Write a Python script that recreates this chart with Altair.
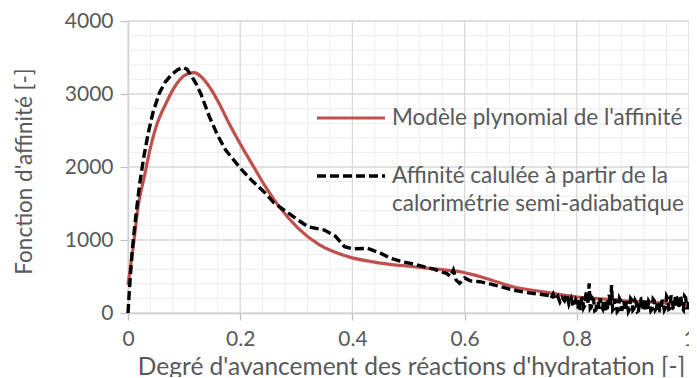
import altair as alt
import pandas as pd

# ---- data ----
red_x = [0, 0.01, 0.018, 0.03, 0.039, 0.05, 0.068, 0.085, 0.1, 0.11, 0.118, 0.13, 0.145,
         0.162, 0.18, 0.203, 0.225, 0.245, 0.27, 0.303, 0.34, 0.392, 0.45, 0.509, 0.55,
         0.591, 0.64, 0.686, 0.74, 0.797, 0.85, 0.9, 0.962, 1.0]
red_y = [383, 950, 1456, 1900, 2233, 2550, 2877, 3120, 3250, 3285, 3292, 3240, 3100,
         2877, 2600, 2278, 1990, 1730, 1450, 1164, 940, 772, 684, 634, 600,
         566, 470, 360, 290, 223, 190, 160, 133, 110]

blk_x = [0, 0.002, 0.004, 0.007, 0.01, 0.015, 0.021, 0.028, 0.036, 0.045, 0.056, 0.066,
         0.077, 0.088, 0.0975, 0.105, 0.113, 0.121, 0.13, 0.145, 0.16, 0.174, 0.19, 0.203,
         0.22, 0.245, 0.26, 0.28, 0.3, 0.321, 0.35, 0.37, 0.386, 0.4, 0.427, 0.45, 0.468,
         0.49, 0.51, 0.527, 0.545, 0.56, 0.568, 0.575, 0.58, 0.585, 0.591, 0.6, 0.61,
         0.627, 0.645, 0.665, 0.686, 0.71, 0.73, 0.744,
         0.750, 0.754, 0.758, 0.762, 0.766, 0.770, 0.774, 0.778, 0.782, 0.786, 0.790,
         0.794, 0.798,
         0.800, 0.802, 0.804, 0.806, 0.808, 0.810, 0.812, 0.814, 0.816, 0.818,
         0.820, 0.822, 0.824, 0.826, 0.828, 0.830, 0.832, 0.834, 0.836, 0.838,
         0.840, 0.842, 0.844, 0.846, 0.848, 0.850, 0.852, 0.854, 0.856, 0.858,
         0.860, 0.862, 0.864, 0.866, 0.868, 0.870, 0.872, 0.874, 0.876, 0.878,
         0.880, 0.882, 0.884, 0.886, 0.888, 0.890, 0.892, 0.894, 0.896, 0.898,
         0.900, 0.902, 0.904, 0.906, 0.908, 0.910, 0.912, 0.914, 0.916, 0.918,
         0.920, 0.922, 0.924, 0.926, 0.928, 0.930, 0.932, 0.934, 0.936, 0.938,
         0.940, 0.942, 0.944, 0.946, 0.948, 0.950, 0.952, 0.954, 0.956, 0.958,
         0.960, 0.962, 0.964, 0.966, 0.968, 0.970, 0.972, 0.974, 0.976, 0.978,
         0.980, 0.982, 0.984, 0.986, 0.988, 0.990, 0.992, 0.994, 0.996, 0.998, 1.000]
blk_y = [0, 250, 480, 800, 1045, 1400, 1780, 2130, 2466, 2760, 3014, 3160,
         3260, 3330, 3365, 3340, 3250, 3146, 3000, 2689, 2430, 2233, 2080, 1959,
         1820, 1640, 1510, 1400, 1290, 1182, 1137, 1050, 908, 880, 886, 820, 749,
         700, 670, 634, 600, 560, 543, 500, 589, 450, 406, 480, 440,
         429, 400, 360, 315, 280, 260, 247,
         240, 200, 260, 180, 230, 150, 210, 170, 260, 120, 200,
         90, 180,
         140, 60, 190, 40, 170, 220, 70, 100, 250, 300,
         120, 406, 60, 80, 200, 180, 30, 40, 160, 150,
         60, 200, 90, 60, 180, 130, 20, 30, 170, 250,
         100, 384, 40, 60, 190, 150, 20, 40, 200, 170,
         30, 90, 160, 30, 120, 160, 20, 50, 200, 180,
         40, 60, 170, 140, 20, 30, 180, 190, 40, 70,
         200, 150, 30, 40, 160, 130, 30, 50, 190, 170,
         40, 60, 160, 120, 30, 30, 180, 140, 40, 70,
         230, 200, 50, 60, 240, 180, 60, 50, 250, 220,
         70, 80, 240, 190, 60, 40, 230, 210, 70, 70, 150]

x_major = [0, 0.2, 0.4, 0.6, 0.8, 1.0]
x_minor = [0.04, 0.08, 0.12, 0.16, 0.24, 0.28, 0.32, 0.36, 0.44, 0.48, 0.52, 0.56,
           0.64, 0.68, 0.72, 0.76, 0.84, 0.88, 0.92, 0.96]
y_major = [0, 1000, 2000, 3000, 4000]
y_minor = [200, 400, 600, 800, 1200, 1400, 1600, 1800, 2200, 2400, 2600, 2800,
           3200, 3400, 3600, 3800]

legend_red = "Modèle plynomial de l'affinité"
legend_blk = ["Affinité calulée à partir de la", "calorimétrie semi-adiabatique"]

x_title = "Degré d'avancement des réactions d'hydratation [-]"
y_title = "Fonction d'affinité [-]"

FONT = "Lato"
TXT = "#595959"
RED = "#c0504d"
W, H = 561, 292

xs = alt.Scale(domain=[0, 1], nice=False, zero=False)
ys = alt.Scale(domain=[0, 4000], nice=False)

one = pd.DataFrame({"k": [0]})

xaxis = alt.Axis(values=x_major, format="~g", title=x_title, grid=False,
                 domainColor="#bfbfbf", domainWidth=1.5, tickColor="#bfbfbf", tickSize=7,
                 tickWidth=1.3, labelFont=FONT, labelFontSize=21, labelColor=TXT,
                 labelPadding=8, labelFlush=False, labelOverlap=False,
                 titleFont=FONT, titleFontSize=24.5, titleFontWeight="normal",
                 titleColor=TXT, titleBaseline="alphabetic", titleY=61, titleX=283)
yaxis = alt.Axis(values=y_major, format="d", title=y_title, grid=False,
                 domainColor="#bfbfbf", domainWidth=1.3, tickColor="#bfbfbf", tickSize=8,
                 tickWidth=1.3, labelFont=FONT, labelFontSize=21, labelColor=TXT,
                 labelPadding=7, labelFlush=False, labelOverlap=False,
                 titleFont=FONT, titleFontSize=22.5, titleFontWeight="normal",
                 titleColor=TXT, titleBaseline="middle", titleX=-104, titleY=150)

vminor = alt.Chart(pd.DataFrame({"v": x_minor})).mark_rule(color="#ededed", strokeWidth=1).encode(
    x=alt.X("v:Q", scale=xs, axis=xaxis))
hminor = alt.Chart(pd.DataFrame({"v": y_minor})).mark_rule(color="#ededed", strokeWidth=1).encode(
    y=alt.Y("v:Q", scale=ys, axis=yaxis))
vmajor = alt.Chart(pd.DataFrame({"v": x_major})).mark_rule(color="#d9d9d9", strokeWidth=1.3).encode(
    x=alt.X("v:Q", scale=xs, axis=xaxis))
hmajor = alt.Chart(pd.DataFrame({"v": y_major})).mark_rule(color="#d9d9d9", strokeWidth=1.3).encode(
    y=alt.Y("v:Q", scale=ys, axis=yaxis))

red = alt.Chart(pd.DataFrame({"x": red_x, "y": red_y})).mark_line(
    color=RED, strokeWidth=3.2, interpolate="monotone").encode(
    x=alt.X("x:Q", scale=xs, axis=xaxis),
    y=alt.Y("y:Q", scale=ys, axis=yaxis),
    order="x:Q")
blk = alt.Chart(pd.DataFrame({"x": blk_x, "y": blk_y})).mark_line(
    color="black", strokeWidth=3.4, strokeDash=[9, 4]).encode(
    x=alt.X("x:Q", scale=xs, axis=xaxis),
    y=alt.Y("y:Q", scale=ys, axis=yaxis),
    order="x:Q")

leg_r = alt.Chart(one).mark_rule(color=RED, strokeWidth=3.2).encode(
    x=alt.value(189), x2=alt.value(257), y=alt.value(97))
leg_b = alt.Chart(one).mark_rule(color="black", strokeWidth=3.4, strokeDash=[9, 4]).encode(
    x=alt.value(189), x2=alt.value(257), y=alt.value(155))

def label(t, yy):
    return alt.Chart(pd.DataFrame({"t": [t]})).mark_text(
        font=FONT, fontSize=22.5, color=TXT, align="left", baseline="middle").encode(
        text="t:N", x=alt.value(264), y=alt.value(yy))

chart = alt.layer(
    vminor, hminor, vmajor, hmajor, red, blk, leg_r, leg_b,
    label(legend_red, 97), label(legend_blk[0], 155), label(legend_blk[1], 183)
).properties(
    width=W, height=H, autosize="none",
    padding={"left": 120, "top": 13, "right": 0, "bottom": 64}
).configure_view(stroke=None).configure(background="white")

chart.save("out.html", embed_options={"renderer": "svg", "actions": False})
